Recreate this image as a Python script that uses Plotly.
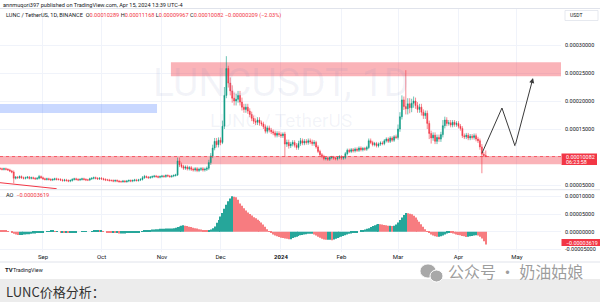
import plotly.graph_objects as go
import pandas as pd

# ---------------- data (price values in units of 1e-5 USDT) ----------------
SC = 1e-5
start_date = "2023-08-10"
first_open = 7.95
close = [
    7.9, 7.8, 7.9, 7.8, 7.7, 7.5, 7.3, 6.2, 6.4, 6.3,
    6.5, 6.3, 6.2, 6.3, 6.4, 6.2, 6.3, 6.2, 6.1, 6.2,
    6.5, 6.3, 6.1, 6.0, 6.1, 6.0, 5.9, 6.0, 6.1, 6.0,
    6.0, 5.9, 5.8, 5.9, 5.8, 5.7, 5.8, 6.0, 6.1, 6.0,
    5.9, 6.0, 6.1, 6.0, 5.9, 5.9, 6.1, 6.2, 6.3, 6.2,
    6.1, 6.2, 6.1, 6.0, 5.9, 5.9, 5.8, 5.8, 5.7, 5.8,
    5.7, 5.6, 5.6, 5.7, 5.6, 5.7, 5.8, 5.7, 5.8, 5.9,
    5.8, 5.9, 6.0, 6.3, 6.5, 6.4, 6.3, 6.4, 6.5, 6.6,
    6.5, 6.4, 6.5, 6.6, 6.5, 6.7, 6.6, 6.5, 6.6, 6.7,
    6.8, 9.3, 8.6, 8.3, 8.0, 8.2, 7.9, 8.1, 7.8, 7.7,
    7.9, 7.6, 7.8, 7.9, 7.7, 7.8, 8.0, 9.0, 10.2, 11.6,
    12.8, 12.2, 13.0, 12.6, 15.5, 21.0, 25.8, 23.2, 21.8, 20.5,
    20.0, 20.3, 21.0, 19.8, 18.9, 18.5, 18.9, 18.2, 17.6, 16.9,
    16.4, 16.2, 16.6, 16.1, 15.9, 15.4, 14.6, 15.2, 14.8, 14.5,
    14.3, 13.9, 14.2, 14.0, 13.8, 14.1, 12.3, 12.6, 12.0, 12.3,
    12.6, 12.1, 11.7, 12.4, 12.9, 12.5, 12.8, 12.6, 12.9, 12.7,
    12.4, 12.6, 11.8, 11.0, 10.4, 10.1, 9.7, 9.8, 9.6, 9.9,
    10.0, 9.8, 9.7, 9.9, 10.1, 9.8, 9.9, 10.6, 11.2, 11.0,
    11.3, 11.1, 11.4, 11.2, 11.6, 11.3, 11.5, 11.4, 11.7, 12.9,
    12.6, 12.2, 12.4, 12.0, 12.3, 12.5, 12.4, 12.9, 13.2, 12.8,
    13.4, 13.0, 13.6, 13.5, 15.0, 17.2, 20.2, 19.0, 18.6, 19.5,
    18.8, 19.6, 20.0, 19.2, 18.5, 18.9, 18.0, 17.4, 17.8, 16.0,
    14.2, 13.4, 13.9, 12.8, 13.5, 13.2, 14.0, 15.6, 16.6, 16.0,
    16.1, 15.7, 16.2, 15.8, 16.0, 15.5, 15.1, 13.8, 13.6, 13.9,
    13.4, 13.7, 13.5, 13.8, 13.2, 12.9, 11.8, 10.5, 10.289, 10.082,
]
wick_up = [
    0.2, 0.2, 0.2, 0.2, 0.2, 0.2, 0.2, 0.3, 0.2, 0.2,
    0.2, 0.2, 0.2, 0.2, 0.2, 0.2, 0.2, 0.2, 0.2, 0.2,
    0.3, 0.2, 0.2, 0.2, 0.2, 0.2, 0.2, 0.2, 0.2, 0.2,
    0.2, 0.2, 0.2, 0.2, 0.2, 0.2, 0.2, 0.2, 0.2, 0.2,
    0.2, 0.2, 0.2, 0.2, 0.2, 0.2, 0.2, 0.2, 0.2, 0.2,
    0.2, 0.2, 0.2, 0.2, 0.2, 0.2, 0.2, 0.2, 0.2, 0.2,
    0.2, 0.2, 0.2, 0.2, 0.2, 0.2, 0.2, 0.2, 0.2, 0.2,
    0.2, 0.2, 0.2, 0.3, 0.3, 0.2, 0.2, 0.2, 0.2, 0.2,
    0.2, 0.2, 0.2, 0.2, 0.2, 0.2, 0.2, 0.2, 0.2, 0.2,
    0.2, 0.6, 0.6, 0.4, 0.3, 0.3, 0.3, 0.3, 0.3, 0.3,
    0.3, 0.3, 0.3, 0.3, 0.3, 0.3, 0.3, 0.5, 0.5, 0.6,
    0.6, 0.6, 0.5, 0.5, 1.0, 1.5, 2.2, 0.5, 1.0, 1.0,
    1.0, 1.0, 0.8, 0.8, 0.8, 0.6, 0.6, 0.6, 0.5, 0.5,
    0.5, 0.5, 0.5, 0.5, 0.4, 0.4, 0.4, 0.4, 0.4, 0.4,
    0.4, 0.4, 0.4, 0.4, 0.4, 0.3, 0.4, 0.5, 0.5, 0.4,
    0.4, 0.4, 0.4, 0.5, 0.5, 0.4, 0.4, 0.4, 0.4, 0.4,
    0.4, 0.4, 0.3, 0.3, 0.3, 0.3, 0.3, 0.2, 0.2, 0.2,
    0.2, 0.2, 0.2, 0.2, 0.2, 0.2, 0.2, 0.3, 0.3, 0.3,
    0.3, 0.3, 0.3, 0.3, 0.3, 0.3, 0.3, 0.3, 0.3, 0.4,
    0.4, 0.3, 0.3, 0.3, 0.3, 0.3, 0.3, 0.3, 0.3, 0.3,
    0.3, 0.3, 0.3, 0.4, 0.8, 0.8, 0.8, 0.6, 6.5, 1.0,
    1.0, 0.8, 0.8, 0.6, 0.6, 0.6, 0.6, 0.5, 0.5, 0.5,
    0.5, 0.5, 0.5, 0.5, 0.5, 0.5, 0.5, 1.0, 0.6, 0.5,
    0.5, 0.5, 0.4, 0.4, 0.4, 0.4, 0.4, 0.4, 0.4, 0.4,
    0.4, 0.4, 0.4, 0.4, 0.4, 0.4, 0.4, 0.5, 0.4, 0.879,
]
wick_dn = [
    0.2, 0.2, 0.2, 0.2, 0.2, 0.2, 0.2, 0.9, 0.2, 0.2,
    0.2, 0.2, 0.2, 0.2, 0.2, 0.2, 0.2, 0.2, 0.2, 0.2,
    0.2, 0.2, 0.2, 0.2, 0.2, 0.2, 0.2, 0.2, 0.2, 0.2,
    0.2, 0.2, 0.2, 0.2, 0.2, 0.2, 0.2, 0.2, 0.2, 0.2,
    0.2, 0.2, 0.2, 0.2, 0.2, 0.2, 0.2, 0.2, 0.2, 0.2,
    0.2, 0.2, 0.2, 0.2, 0.2, 0.2, 0.2, 0.2, 0.2, 0.2,
    0.2, 0.2, 0.2, 0.2, 0.2, 0.2, 0.2, 0.2, 0.2, 0.2,
    0.2, 0.2, 0.2, 0.2, 0.2, 0.2, 0.2, 0.2, 0.2, 0.2,
    0.2, 0.2, 0.2, 0.2, 0.2, 0.2, 0.2, 0.2, 0.2, 0.2,
    0.2, 0.2, 0.4, 0.3, 0.3, 0.3, 0.3, 0.3, 0.3, 0.3,
    0.3, 0.3, 0.3, 0.3, 0.3, 0.3, 0.3, 0.3, 0.4, 0.4,
    0.4, 0.5, 0.5, 0.5, 0.3, 0.5, 0.5, 0.8, 0.8, 0.8,
    0.8, 0.8, 0.6, 0.6, 0.6, 0.6, 0.6, 0.5, 0.5, 0.5,
    0.5, 0.5, 0.5, 0.5, 0.4, 0.4, 0.4, 0.4, 0.4, 0.4,
    0.4, 0.4, 0.4, 0.4, 0.4, 0.4, 2.2, 0.5, 0.5, 0.4,
    0.4, 0.4, 0.4, 0.4, 0.4, 0.4, 0.4, 0.4, 0.4, 0.4,
    0.4, 0.4, 0.3, 0.3, 0.3, 0.3, 0.3, 0.3, 0.3, 0.3,
    0.3, 0.3, 0.3, 0.3, 0.3, 0.3, 0.3, 0.3, 0.3, 0.3,
    0.3, 0.3, 0.3, 0.3, 0.3, 0.3, 0.3, 0.3, 0.3, 0.3,
    0.3, 0.3, 0.3, 0.3, 0.3, 0.3, 0.3, 0.3, 0.3, 0.3,
    0.3, 0.3, 0.3, 0.3, 0.4, 0.5, 0.5, 0.6, 1.0, 1.0,
    1.0, 0.8, 0.8, 0.6, 0.6, 0.6, 0.6, 0.6, 0.6, 1.0,
    1.0, 1.0, 0.5, 0.5, 0.5, 0.5, 0.5, 0.5, 0.5, 0.5,
    0.4, 0.4, 0.4, 0.4, 0.4, 0.4, 0.4, 0.4, 0.4, 0.4,
    0.4, 0.4, 0.4, 0.4, 0.4, 0.4, 0.5, 3.4, 0.3, 0.115,
]
# Awesome Oscillator values (units of 1e-5)
ao = [
    0.5, 0.4, 0.3, 0.2, 0.1, 0.0, -0.3, -0.6, -0.8, -0.9,
    -0.9, -0.9, -0.8, -0.8, -0.7, -0.7, -0.6, -0.5, -0.5, -0.4,
    -0.3, -0.2, -0.1, 0.0, 0.1, 0.1, 0.2, 0.2, 0.1, 0.1,
    0.0, -0.1, -0.1, -0.2, -0.2, -0.3, -0.2, -0.2, -0.1, -0.1,
    0.0, 0.0, 0.1, 0.1, 0.1, 0.0, 0.0, 0.1, 0.2, 0.2,
    0.3, 0.2, 0.2, 0.1, 0.0, -0.1, -0.2, -0.3, -0.3, -0.4,
    -0.4, -0.5, -0.5, -0.5, -0.5, -0.4, -0.4, -0.3, -0.3, -0.2,
    -0.2, -0.1, 0.0, 0.1, 0.2, 0.3, 0.4, 0.5, 0.6, 0.6,
    0.7, 0.7, 0.8, 0.8, 0.8, 0.9, 0.9, 0.9, 0.9, 1.0,
    1.1, 1.3, 1.5, 1.7, 1.8, 1.7, 1.6, 1.4, 1.3, 1.1,
    1.0, 0.9, 0.7, 0.6, 0.5, 0.4, 0.3, 0.3, 0.6, 1.0,
    1.5, 2.5, 3.3, 4.3, 5.3, 6.5, 7.6, 8.6, 9.4, 10.0,
    9.9, 9.7, 9.0, 8.0, 7.3, 6.6, 6.0, 5.4, 5.0, 4.6,
    4.1, 3.8, 3.4, 3.0, 2.6, 2.0, 1.4, 0.7, 0.1, -0.4,
    -0.8, -1.1, -1.3, -1.5, -1.7, -1.8, -1.9, -2.0, -2.1, -2.1,
    -1.8, -1.6, -1.4, -1.2, -1.0, -0.9, -0.8, -0.7, -0.6, -0.6,
    -0.6, -0.8, -1.1, -1.4, -1.7, -2.0, -2.2, -2.3, -2.3, -2.3,
    -2.4, -2.2, -2.0, -1.8, -1.6, -1.4, -1.2, -1.0, -0.8, -0.6,
    -0.5, -0.3, -0.2, -0.1, 0.0, 0.2, 0.4, 0.6, 0.8, 1.0,
    1.3, 1.6, 1.8, 2.0, 2.2, 2.1, 2.0, 1.9, 1.8, 1.7,
    1.7, 1.6, 1.7, 2.0, 2.6, 3.3, 4.0, 4.7, 5.3, 5.2,
    5.1, 4.9, 4.5, 4.0, 3.4, 2.8, 2.1, 1.4, 0.7, 0.1,
    -0.4, -0.8, -1.1, -1.3, -1.4, -1.4, -1.3, -1.1, -0.8, -0.5,
    -0.3, -0.4, -0.5, -0.6, -0.8, -0.9, -1.0, -1.2, -1.3, -1.5,
    -1.4, -1.3, -1.2, -1.1, -1.0, -1.1, -1.4, -1.9, -2.7, -3.619,
]
month_ticks = ["2023-09-01", "2023-10-01", "2023-11-01", "2023-12-01", "2024-01-01",
               "2024-02-01", "2024-03-01", "2024-04-01", "2024-05-01"]
month_labels = ["Sep", "Oct", "Nov", "Dec", "<b>2024</b>", "Feb", "Mar", "Apr", "May"]
price_ticks = [5, 15, 20, 25, 30]
ao_ticks = [-5, 0, 5, 10]

# drawings (data units)
x_range = ["2023-08-09 23:00", "2024-05-23 13:30"]
upper_zone = ["2023-11-05 14:00", 24.4, 26.9]
lower_zone = [8.70, 10.18]
blue_zone = ["2023-10-29 11:00", 17.86, 19.46]
trend_x = ["2023-08-09 23:00", "2023-09-08 00:00"]
trend_y = [5.41, 4.34]
proj_x = ["2024-04-13 02:00", "2024-04-23 07:00", "2024-04-30 00:00", "2024-05-09 05:00"]
proj_y = [10.7, 18.75, 11.95, 24.1]
last_price = 10.082

# ---------------- build ----------------
W, H = 600, 302
def px(x): return x / W
def py(y): return 1 - y / H

G = "#089981"
R = "#f23645"
dates = pd.date_range(start_date, periods=len(close), freq="D")
opens = [first_open] + close[:-1]
highs = [max(o, c) + w for o, c, w in zip(opens, close, wick_up)]
lows = [min(o, c) - w for o, c, w in zip(opens, close, wick_dn)]

AG, AR = "#26a69a", "#f77c80"
ao_cols = [AR] + [AG if ao[i] >= ao[i - 1] else AR for i in range(1, len(ao))]

fig = go.Figure()
fig.add_trace(go.Candlestick(
    x=dates, open=[v * SC for v in opens], high=[v * SC for v in highs],
    low=[v * SC for v in lows], close=[v * SC for v in close],
    increasing=dict(line=dict(color=G, width=0.6), fillcolor=G),
    decreasing=dict(line=dict(color=R, width=0.6), fillcolor=R),
    whiskerwidth=0, xaxis="x", yaxis="y", hoverinfo="skip", showlegend=False))
fig.add_trace(go.Bar(x=dates, y=[v * SC for v in ao], marker=dict(color=ao_cols, line=dict(width=0)),
                     xaxis="x", yaxis="y2", hoverinfo="skip", showlegend=False))
fig.add_trace(go.Scatter(x=proj_x[:-1], y=[v * SC for v in proj_y[:-1]], mode="lines",
                         line=dict(color="#3a3a3a", width=1), xaxis="x", yaxis="y",
                         hoverinfo="skip", showlegend=False))

def pv(y):  # price pixel -> value (1e-5)
    return 10 + (157 - y) / 5.6
def av(y):
    return (231.7 - y) / 3.54

font = "Roboto, Arial, sans-serif"
TXT = "#131722"
GRID = "#f0f3fa"

shapes = [
    dict(type="rect", xref="x", yref="y", x0=upper_zone[0], x1=x_range[1],
         y0=upper_zone[1] * SC, y1=upper_zone[2] * SC, fillcolor="rgba(242,54,69,0.38)",
         line=dict(width=0), layer="between"),
    dict(type="rect", xref="x", yref="y", x0=x_range[0], x1=x_range[1],
         y0=lower_zone[0] * SC, y1=lower_zone[1] * SC, fillcolor="rgba(242,54,69,0.38)",
         line=dict(width=0), layer="between"),
    dict(type="rect", xref="x", yref="y", x0=x_range[0], x1=blue_zone[0],
         y0=blue_zone[1] * SC, y1=blue_zone[2] * SC, fillcolor="rgba(41,98,255,0.25)",
         line=dict(width=0), layer="between"),
    dict(type="line", xref="x", yref="y", x0=trend_x[0], x1=trend_x[1],
         y0=trend_y[0] * SC, y1=trend_y[1] * SC, line=dict(color=R, width=1)),
    dict(type="line", xref="x", yref="y", x0=x_range[0], x1=x_range[1],
         y0=last_price * SC, y1=last_price * SC, line=dict(color=R, width=0.7, dash="dot")),
    # pane separators / borders
    dict(type="line", xref="paper", yref="paper", x0=0, x1=1, y0=py(189.7), y1=py(189.7),
         line=dict(color="#e0e3eb", width=1)),
    dict(type="line", xref="paper", yref="paper", x0=0, x1=1, y0=py(8.5), y1=py(8.5),
         line=dict(color="#e0e3eb", width=1)),
    dict(type="line", xref="paper", yref="paper", x0=0, x1=1, y0=py(262), y1=py(262),
         line=dict(color="#e0e3eb", width=1)),
    # price labels on scale
    dict(type="rect", xref="paper", yref="paper", x0=px(561.5), x1=px(597), y0=py(165), y1=py(153.5),
         fillcolor=R, line=dict(width=0), layer="above"),
    dict(type="rect", xref="paper", yref="paper", x0=px(561.5), x1=px(600), y0=py(246), y1=py(239),
         fillcolor=R, line=dict(width=0), layer="above"),
    dict(type="rect", xref="paper", yref="paper", x0=px(565), x1=px(598), y0=py(20.5), y1=py(10.5),
         fillcolor="white", line=dict(color="#e0e3eb", width=0.8), layer="above"),
    # bottom gray strip
    dict(type="rect", xref="paper", yref="paper", x0=0, x1=1, y0=0, y1=py(279),
         fillcolor="#ececec", line=dict(width=0), layer="above"),
    # wechat icon
    dict(type="circle", xref="paper", yref="paper", x0=px(420), x1=px(436), y0=py(278), y1=py(264),
         fillcolor="#a8a8a8", line=dict(color="white", width=0.8), layer="above"),
    dict(type="circle", xref="paper", yref="paper", x0=px(430), x1=px(443), y0=py(282), y1=py(270),
         fillcolor="#a8a8a8", line=dict(color="white", width=1), layer="above"),
]

def ann(x, y, text, size=5.6, color=TXT, anchor="left", fam=font, **kw):
    return dict(x=px(x), y=py(y), xref="paper", yref="paper", text=text, showarrow=False,
                xanchor=anchor, yanchor="middle", font=dict(size=size, color=color, family=fam), **kw)

red = lambda s: f"<span style='color:{R}'>{s}</span>"
annotations = [
    ann(280.5, 83, "LUNCUSDT, 1D", size=39, color="rgba(120,130,190,0.09)", anchor="center"),
    ann(281, 121, "LUNC / TetherUS", size=19, color="rgba(120,130,190,0.09)", anchor="center"),
    ann(1, 4.5, "annmuqori397 published on TradingView.com, Apr 15, 2024 13:39 UTC-4"),
    ann(4, 15.5, "LUNC / TetherUS, 1D, BINANCE  O" + red("0.00010289") + " H" + red("0.00011168")
        + " L" + red("0.00009967") + " C" + red("0.00010082") + " " + red("−0.00000209 (−2.03%)")),
    ann(568, 15.5, "USDT", size=5),
    ann(4, 195, "AO  " + red("−0.00003619")),
    ann(564, 156.8, "0.00010082", size=5.4, color="white"),
    ann(564, 162, "06:23:58", size=5.4, color="white"),
    ann(563.5, 242.5, "−0.00003619", size=5.4, color="white"),
    ann(3, 269.5, "<b>TV</b>", size=6),
    ann(11, 269.5, "TradingView", size=5.4),
    ann(4, 291, "LUNC价格分析：", size=13, color="#333333", fam="Noto Sans CJK SC"),
    ann(446, 271, "公众号 · 奶油姑娘", size=16, color="rgba(140,140,140,0.85)", fam="Noto Sans CJK SC"),
    dict(x=proj_x[3], y=proj_y[3] * SC, ax=proj_x[2], ay=proj_y[2] * SC, xref="x", yref="y",
         axref="x", ayref="y", showarrow=True, arrowhead=2, arrowsize=1, arrowwidth=1,
         arrowcolor="#3a3a3a", text=""),
]

fig.update_layout(
    width=W, height=H, margin=dict(l=0, r=0, t=0, b=0),
    paper_bgcolor="white", plot_bgcolor="white", showlegend=False, bargap=0.45,
    xaxis=dict(domain=[0, px(561)], type="date", range=x_range, anchor="y2",
               tickvals=month_ticks, ticktext=month_labels, showgrid=True, gridcolor=GRID,
               gridwidth=1, ticks="", tickfont=dict(size=6, color=TXT, family=font),
               rangeslider=dict(visible=False), showline=False, zeroline=False),
    yaxis=dict(domain=[py(189.5), py(9)], range=[pv(189.5) * SC, pv(9) * SC], side="right",
               anchor="x", tickvals=[v * SC for v in price_ticks],
               ticktext=[f"{v * SC:.8f}" for v in price_ticks], showgrid=True, gridcolor=GRID,
               ticks="", ticklabelstandoff=3, tickfont=dict(size=5.5, color=TXT, family=font),
               zeroline=False, showline=False),
    yaxis2=dict(domain=[py(251.5), py(190)], range=[av(251.5) * SC, av(190) * SC], side="right",
                anchor="x", tickvals=[v * SC for v in ao_ticks],
                ticktext=[f"{v * SC:.8f}" for v in ao_ticks], showgrid=True,
                gridcolor=GRID, ticks="", ticklabelstandoff=3,
                tickfont=dict(size=5.5, color=TXT, family=font), zeroline=False, showline=False),
    shapes=shapes, annotations=annotations,
)
fig.write_html("out.html")
